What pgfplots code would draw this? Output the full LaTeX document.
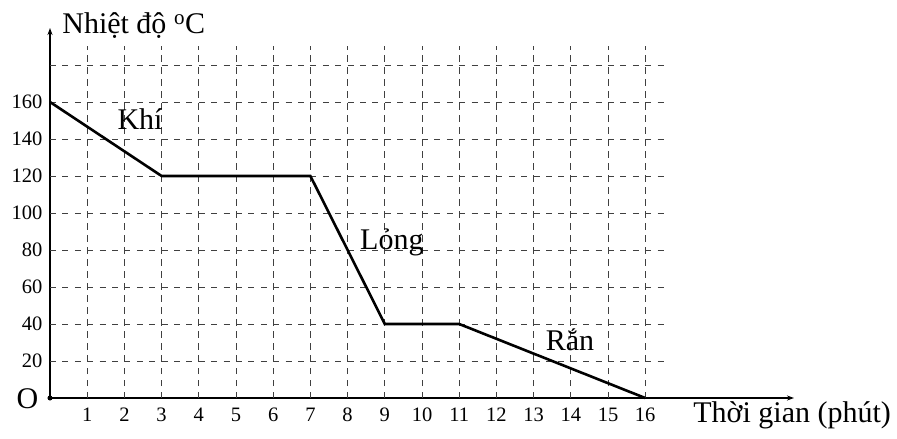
\documentclass[border=0pt]{standalone}
\usepackage{pgfplots}
\pgfplotsset{compat=1.18}
\usepackage{fontspec}
\setmainfont{Liberation Serif}
\usetikzlibrary{arrows.meta}
\newcommand{\tickfont}{\fontsize{20.5}{23}\selectfont}
\begin{document}
\begin{tikzpicture}
\path[use as bounding box] (-50pt,-41pt) rectangle (847pt,398pt);
\begin{axis}[
  anchor=origin, at={(0pt,0pt)},
  x=37.2pt, y=1.85pt,
  xmin=0, xmax=20, ymin=0, ymax=200,
  axis lines=left,
  axis line style={line width=1.4pt, -{Stealth[length=7pt,width=5pt]}},
  xtick={1,...,16}, ytick={20,40,...,160},
  xticklabels={1,2,3,4,5,6,7,8,9,10,11,12,13,14,15,16},
  yticklabels={20,40,60,80,100,120,140,160},
  major tick length=0pt,
  tick style={draw=none},
  every tick label/.style={font=\tickfont, text=black},
  xticklabel style={font=\tickfont, yshift=-6pt, text height=13.8pt, text depth=0pt},
  yticklabel style={font=\tickfont, xshift=-4pt},
  clip=false,
]
\pgfplotsinvokeforeach{20,40,...,180}{
  \draw[black!75, line width=0.8pt, dash pattern=on 6pt off 6.4pt] (axis cs:0,#1) -- (axis cs:16.5,#1);
}
\pgfplotsinvokeforeach{1,...,16}{
  \draw[black!75, line width=0.8pt, dash pattern=on 6.5pt off 5.5pt] (axis cs:#1,0) -- (axis cs:#1,190.5);
}
\addplot[black, line width=2.6pt, line join=miter] coordinates {
  (0,160) (3,120) (7,120) (9,40) (11,40) (16,0)
};
\fill[black] (axis cs:0,0) circle (2.5pt);
\node[font=\fontsize{30}{34}\selectfont, inner sep=0pt] at ([xshift=-22.5pt,yshift=-1pt]axis cs:0,0) {O};
\node[font=\fontsize{30}{34}\selectfont, inner sep=0pt] at (axis cs:2.42,151) {Khí};
\node[font=\fontsize{30}{34}\selectfont, inner sep=0pt] at (axis cs:9.19,84) {Lỏng};
\node[font=\fontsize{30}{34}\selectfont, inner sep=0pt] at (axis cs:13.98,31.5) {Rắn};
\node[font=\fontsize{30}{34}\selectfont, inner sep=0pt] at (axis cs:2.25,201.5) {Nhiệt độ \textsuperscript{o}C};
\node[font=\fontsize{30}{34}\selectfont, inner sep=0pt] at (axis cs:19.95,-9.5) {Thời gian (phút)};
\end{axis}
\end{tikzpicture}
\end{document}
